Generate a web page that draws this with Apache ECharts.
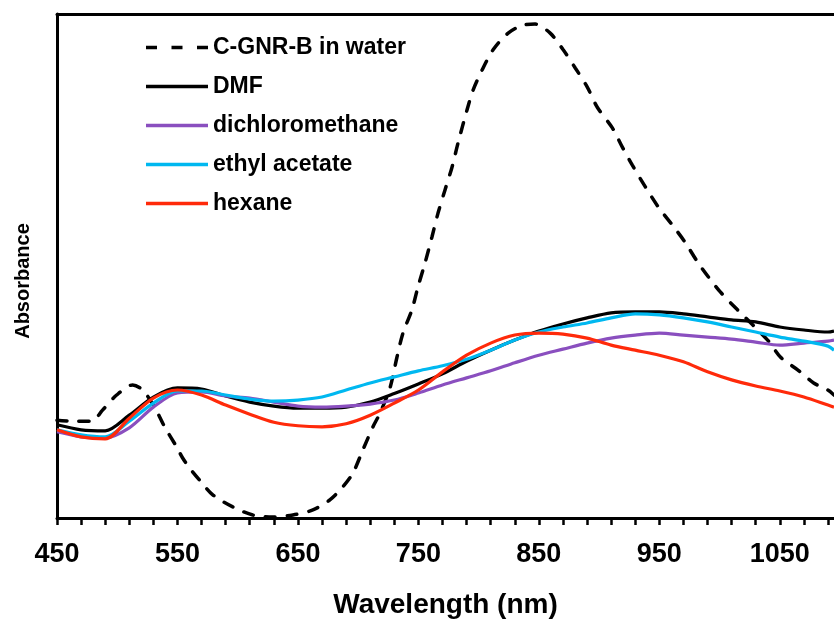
<!DOCTYPE html>
<html>
<head>
<meta charset="utf-8">
<script src="https://cdn.jsdelivr.net/npm/echarts@6/dist/echarts.min.js"></script>
<style>html,body{margin:0;padding:0;background:#fff}#chart{width:834px;height:619px}</style>
</head>
<body>
<div id="chart"></div>
<script>
// Shared wavelength grid (nm) for the solvent spectra
const wavelengths = [450,470,490,510,530,550,570,590,610,630,650,670,690,710,730,750,770,790,810,830,850,870,890,910,930,950,970,990,1010,1030,1050,1070,1090,1095];
const dmf = [0.185,0.175,0.173,0.204,0.240,0.258,0.256,0.242,0.230,0.222,0.218,0.218,0.220,0.230,0.247,0.266,0.286,0.311,0.333,0.353,0.371,0.385,0.397,0.407,0.409,0.409,0.405,0.399,0.393,0.389,0.379,0.373,0.369,0.371];
const dichloromethane = [0.171,0.161,0.159,0.179,0.220,0.248,0.250,0.242,0.238,0.230,0.222,0.220,0.222,0.226,0.234,0.248,0.264,0.278,0.292,0.308,0.323,0.335,0.347,0.357,0.363,0.367,0.363,0.359,0.355,0.349,0.343,0.347,0.351,0.353];
const ethylAcetate = [0.175,0.165,0.161,0.192,0.228,0.252,0.252,0.244,0.236,0.232,0.234,0.240,0.254,0.268,0.280,0.292,0.302,0.315,0.333,0.353,0.369,0.379,0.387,0.397,0.405,0.403,0.397,0.389,0.379,0.369,0.359,0.351,0.341,0.333];
const hexane = [0.175,0.161,0.157,0.198,0.238,0.254,0.244,0.224,0.206,0.190,0.183,0.181,0.187,0.204,0.228,0.254,0.290,0.323,0.347,0.363,0.367,0.365,0.357,0.343,0.333,0.323,0.310,0.290,0.274,0.262,0.252,0.240,0.224,0.220];

// C-GNR-B in water (own wavelength sampling)
const waterWavelengths = [450,464.5,478.7,487.8,499.5,512.8,521.1,531.0,539.3,549.3,554.3,560.1,568.4,579.3,595.9,612.5,629.1,645.8,662.4,676.5,687.3,695.6,703.9,712.3,718.1,726.4,732.2,737.2,744.6,749.6,755.5,761.3,766.3,772.1,777.9,782.9,790.4,795.4,802.9,812.0,824.5,837.0,847.0,859.4,870.2,880.2,890.2,898.5,911.0,919.3,927.6,938.4,949.2,960.9,971.7,981.7,990.8,1000.8,1014.9,1039.9,1050.7,1064.8,1078.1,1089.8,1095];
const waterValues = [0.194,0.192,0.192,0.214,0.244,0.264,0.254,0.220,0.181,0.141,0.119,0.099,0.075,0.046,0.022,0.006,0.002,0.006,0.016,0.036,0.062,0.089,0.135,0.181,0.208,0.258,0.319,0.367,0.413,0.458,0.506,0.558,0.605,0.651,0.696,0.744,0.810,0.849,0.889,0.929,0.962,0.978,0.980,0.962,0.929,0.893,0.855,0.815,0.774,0.736,0.700,0.657,0.617,0.581,0.546,0.508,0.478,0.448,0.413,0.353,0.319,0.294,0.268,0.254,0.244];

const labelTicks = [450,550,650,750,850,950,1050];
const minorTicks = [450,470,490,510,530,550,570,590,610,630,650,670,690,710,730,750,770,790,810,830,850,870,890,910,930,950,970,990,1010,1030,1050,1070,1090];

const seriesNames = ['C-GNR-B in water','DMF','dichloromethane','ethyl acetate','hexane'];
const seriesColors = ['#000000','#000000','#8A4FBF','#00B8F0','#FF2A0A'];

function pairs(xs, ys){ return xs.map((x,i)=>[x, ys[i]]); }

const FONT = '"Liberation Sans", Arial, sans-serif';
const chart = echarts.init(document.getElementById('chart'), null, {renderer:'canvas'});

const solidData = [dmf, dichloromethane, ethylAcetate, hexane];
const series = [{
  name: seriesNames[0], type:'line', symbol:'none', smooth:0.3,
  data: pairs(waterWavelengths, waterValues),
  lineStyle:{color:seriesColors[0], width:3.5, type:[10,12], cap:'round'},
  itemStyle:{color:seriesColors[0]}
}];
solidData.forEach((d,i)=>{
  series.push({
    name: seriesNames[i+1], type:'line', symbol:'none', smooth:0.3,
    data: pairs(wavelengths, d),
    lineStyle:{color:seriesColors[i+1], width:3.2},
    itemStyle:{color:seriesColors[i+1]}
  });
});

const dashIcon = 'path://M0,0h11v3.5h-11z M25.5,0h11v3.5h-11z M51,0h11v3.5h-11z';
const solidIcon = 'path://M0,0h62v3.5h-62z';

chart.setOption({
  animation:false,
  backgroundColor:'#ffffff',
  grid:{left:57, right:0, top:14, bottom:101, containLabel:false, outerBoundsMode:'none'},
  legend:{
    show:true, orient:'vertical', left:146, top:36, padding:0,
    itemWidth:62, itemHeight:3.5, itemGap:16,
    data: seriesNames.map((n,i)=>({name:n, icon: i===0 ? dashIcon : solidIcon})),
    textStyle:{fontFamily:FONT, fontWeight:'bold', fontSize:23, color:'#000', lineHeight:22}
  },
  xAxis:[{
    type:'value', min:450, max:1095, position:'bottom',
    name:'Wavelength (nm)', nameLocation:'middle', nameGap:73,
    nameTextStyle:{fontFamily:FONT, fontWeight:'bold', fontSize:28, color:'#000'},
    axisLine:{show:true, onZero:false, lineStyle:{color:'#000', width:3}},
    axisTick:{show:true, length:7, inside:false, customValues:minorTicks, lineStyle:{color:'#000', width:2.5}},
    axisLabel:{customValues:labelTicks, margin:23, fontFamily:FONT, fontWeight:'bold', fontSize:27, color:'#000',
      formatter:function(v){ return String(v); }},
    splitLine:{show:false}
  },{
    type:'value', min:450, max:1095, position:'top',
    axisLine:{show:true, onZero:false, lineStyle:{color:'#000', width:3}},
    axisTick:{show:false}, axisLabel:{show:false}, splitLine:{show:false}
  }],
  yAxis:{
    type:'value', min:0, max:1,
    name:'Absorbance', nameLocation:'middle', nameGap:24, nameRotate:90,
    nameTextStyle:{fontFamily:FONT, fontWeight:'bold', fontSize:20, color:'#000', padding:[0,30,0,0]},
    axisLine:{show:true, onZero:false, lineStyle:{color:'#000', width:3}},
    axisTick:{show:false}, axisLabel:{show:false}, splitLine:{show:false}
  },
  series: series
});
</script>
</body>
</html>
